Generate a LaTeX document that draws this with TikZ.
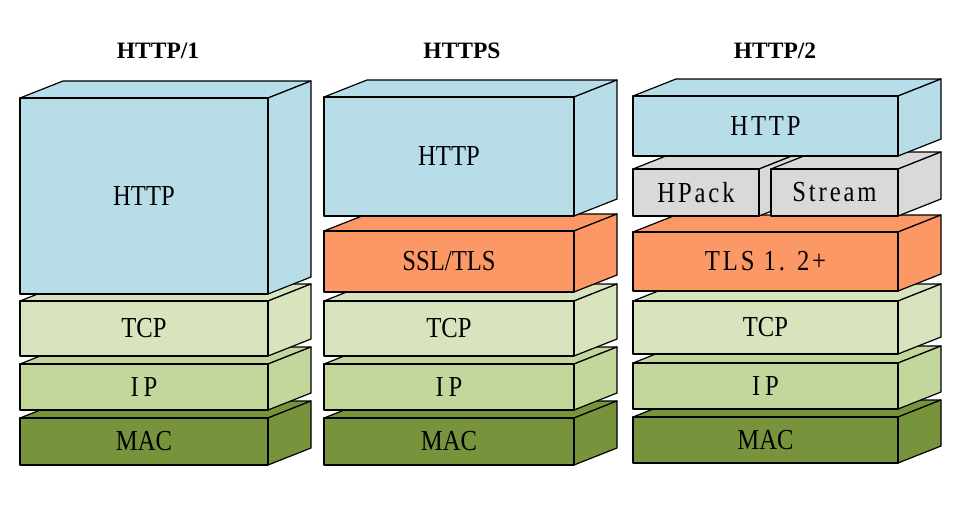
\documentclass[tikz,border=0pt]{standalone}
\usepackage{fontspec}
\setmainfont{Liberation Serif}
\newfontfamily\boxfont[FakeStretch=0.85]{Liberation Serif}
\newfontfamily\boxfontwide[FakeStretch=0.85,LetterSpace=10]{Liberation Serif}
\usetikzlibrary{calc}

\definecolor{httpblue}{HTML}{B7DEE8}
\definecolor{tlsorange}{HTML}{FC9866}
\definecolor{tcpgreen}{HTML}{D7E4BD}
\definecolor{ipgreen}{HTML}{C3D69B}
\definecolor{macgreen}{HTML}{77933C}
\definecolor{packgray}{HTML}{D9D9D9}

\tikzset{
  layer/.style={draw=black,line width=1.2pt,line join=round},
  lbl/.style={font=\boxfont\fontsize{29}{30}\selectfont,inner sep=0pt},
  ttl/.style={font=\bfseries\fontsize{23.5}{24}\selectfont,anchor=base}
}

% one slab: name, x1, y1, x2, y2 (front face), fill, text
\newcommand{\layerbox}[7]{%
  \filldraw[layer,fill=#6] (#2,#3) -- (#2+43,#3-17) -- (#4+43,#3-17) -- (#4,#3) -- cycle;
  \filldraw[layer,fill=#6] (#4,#3) -- (#4+43,#3-17) -- (#4+43,#5-17) -- (#4,#5) -- cycle;
  \filldraw[layer,fill=#6] (#2,#3) rectangle (#4,#5);
  \node[lbl] (#1) at ({(#2+#4)/2},{(#3+#5)/2}) {#7};
}

\begin{document}
\begin{tikzpicture}[x=1pt,y=-1pt]
  \useasboundingbox (0,0) rectangle (967,504);

  % Titles
  \node[ttl] (t1) at (158,58) {HTTP/1};
  \node[ttl] (t2) at (462,58) {HTTPS};
  \node[ttl] (t3) at (775,58) {HTTP/2};

  % HTTP/1
  \layerbox{mac1}{20}{418}{268}{465}{macgreen}{MAC}
  \layerbox{ip1}{20}{364}{268}{410}{ipgreen}{I\,P}
  \layerbox{tcp1}{20}{301}{268}{356}{tcpgreen}{TCP}
  \layerbox{http1}{20}{98}{268}{294}{httpblue}{HTTP}

  % HTTPS
  \layerbox{mac2}{324}{418}{574}{465}{macgreen}{MAC}
  \layerbox{ip2}{324}{364}{574}{410}{ipgreen}{I\,P}
  \layerbox{tcp2}{324}{301}{574}{356}{tcpgreen}{TCP}
  \layerbox{ssl2}{324}{231}{574}{292}{tlsorange}{SSL/TLS}
  \layerbox{http2}{324}{97}{574}{216}{httpblue}{HTTP}

  % HTTP/2
  \layerbox{mac3}{633}{417}{898}{463}{macgreen}{MAC}
  \layerbox{ip3}{633}{363}{898}{409}{ipgreen}{I\,P}
  \layerbox{tcp3}{633}{301}{898}{354}{tcpgreen}{TCP}
  \layerbox{tls3}{633}{232}{898}{291}{tlsorange}{\boxfontwide TLS 1. 2+}
  \layerbox{hpack3}{633}{169}{759}{216}{packgray}{\boxfontwide HPack}
  \layerbox{stream3}{771}{169}{898}{216}{packgray}{\boxfontwide Stream}
  \layerbox{http3}{633}{96}{898}{156}{httpblue}{\boxfontwide HTTP}
\end{tikzpicture}
\end{document}
